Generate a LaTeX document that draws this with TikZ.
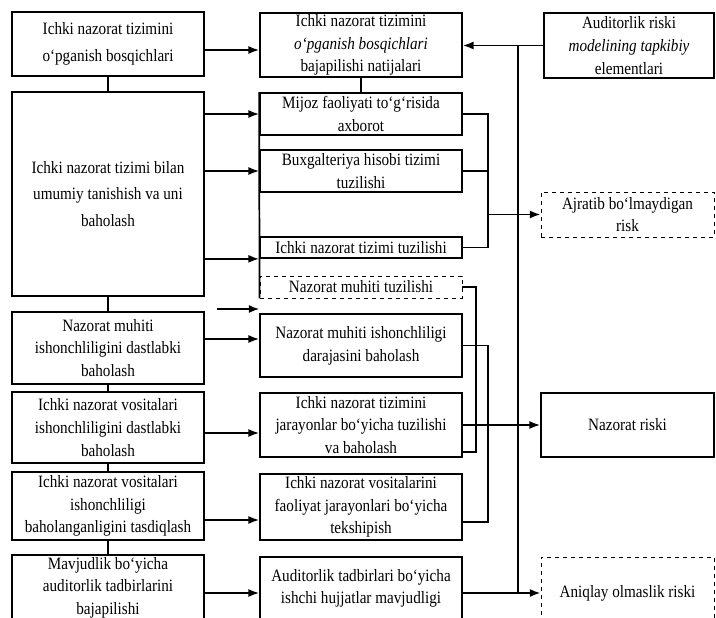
\documentclass[tikz,border=0pt]{standalone}
\usepackage{fontspec}
\setmainfont[FakeStretch=.875]{Liberation Serif}
\usetikzlibrary{arrows.meta}
\begin{document}
\begin{tikzpicture}[x=.75pt, y=-.75pt, line width=1.3pt,
	box/.style={draw, align=center, inner sep=1pt, font=\fontsize{13}{17}\selectfont},
	wide/.style={box, font=\fontsize{13}{20}\selectfont},
	faint/.style={box, line width=.7pt, dashed},
	arr/.style={-{Latex[length=8pt,width=6pt]}}]
	\useasboundingbox (0,0) rectangle (716,617);
	\node[wide,  minimum width=144pt,    minimum height=48pt]    (L1) at (108,44)    {Ichki nazorat tizimini\\o‘pganish bosqichlari};
	\node[wide,  minimum width=144pt,    minimum height=153pt]   (L2) at (108,194)   {Ichki nazorat tizimi bilan\\umumiy tanishish va uni\\baholash};
	\node[box,   minimum width=144pt,    minimum height=54pt]    (L3) at (108,348)   {Nazorat muhiti\\ishonchliligini dastlabki\\baholash};
	\node[box,   minimum width=144pt,    minimum height=53.25pt] (L4) at (108,427.5) {Ichki nazorat vositalari\\ishonchliligini dastlabki\\baholash};
	\node[box,   minimum width=144pt,    minimum height=51pt]    (L5) at (108,506)   {Ichki nazorat vositalari\\ishonchliligi\\baholanganligini tasdiqlash};
	\node[box,   minimum width=144pt,    minimum height=48.75pt] (L6) at (108,587.5) {Mavjudlik bo‘yicha\\auditorlik tadbirlarini\\bajapilishi};
	\node[box,   minimum width=151.5pt,  minimum height=48pt]    (M1) at (361,45)    {Ichki nazorat tizimini\\\textit{o‘pganish bosqichlari}\\bajapilishi natijalari};
	\node[box,   minimum width=151.5pt,  minimum height=31.5pt]  (M2) at (361,114)   {Mijoz faoliyati to‘g‘risida\\axborot};
	\node[box,   minimum width=151.5pt,  minimum height=31.5pt]  (M3) at (361,171)   {Buxgalteriya hisobi tizimi\\tuzilishi};
	\node[box,   minimum width=151.5pt,  minimum height=15.75pt] (M4) at (361,247.5) {Ichki nazorat tizimi tuzilishi};
	\node[faint, minimum width=151.5pt,  minimum height=16.5pt]  (M5) at (361,287)   {Nazorat muhiti tuzilishi};
	\node[box,   minimum width=151.5pt,  minimum height=47.25pt] (M6) at (361,345.5) {Nazorat muhiti ishonchliligi\\darajasini baholash};
	\node[box,   minimum width=151.5pt,  minimum height=48pt]    (M7) at (361,425)   {Ichki nazorat tizimini\\jarayonlar bo‘yicha tuzilishi\\va baholash};
	\node[box,   minimum width=151.5pt,  minimum height=49.5pt]  (M8) at (361,507)   {Ichki nazorat vositalarini\\faoliyat jarayonlari bo‘yicha\\tekshipish};
	\node[box,   minimum width=151.5pt,  minimum height=47.25pt] (M9) at (361,588.5) {Auditorlik tadbirlari bo‘yicha\\ishchi hujjatlar mavjudligi};
	\node[box,   minimum width=127.5pt,  minimum height=48.75pt] (R1) at (629,45.5)  {Auditorlik riski\\\textit{modelining tapkibiy}\\elementlari};
	\node[faint, minimum width=129.75pt, minimum height=33.75pt] (R2) at (627.5,214.5) {Ajratib bo‘lmaydigan\\risk};
	\node[box,   minimum width=129.75pt, minimum height=48pt]    (R3) at (627.5,425) {Nazorat riski};
	\node[faint, minimum width=129.75pt, minimum height=54pt]    (R4) at (627.5,593) {Aniqlay olmaslik riski};
	\coordinate (fa) at (217,309);
	\coordinate (bA) at (488,214.5);
	\coordinate (bB) at (476,452);
	\coordinate (bC) at (488,522);
	\coordinate (tr) at (518,0);
	\draw (L1) -- (L2);
	\draw (L2) -- (L3);
	\draw (L3) -- (L4);
	\draw (L4) -- (L5);
	\draw (L5) -- (L6);
	\draw (M1) -- (M2);
	\draw (M2.north west) -- (M5.south west);
	\draw[arr] (L1.east |- 0,50) -- (M1.west |- 0,50);
	\draw[arr] (L2.east |- M2) -- (M2.west);
	\draw[arr] (L2.east |- M3) -- (M3.west);
	\draw[arr] (L2.east |- M4.south) -- (M4.south west);
	\draw[arr] (fa) -- (fa -| M5.west);
	\draw[arr] (L3.east |- 0,339) -- (M6.west |- 0,339);
	\draw[arr] (L4.east |- 0,433) -- (M7.west |- 0,433);
	\draw[arr] (L5.east |- 0,520) -- (M8.west |- 0,520);
	\draw[arr] (L6.east |- R4) -- (M9.west |- R4);
	\draw (M2.east) -| (bA) |- (M4.east);
	\draw (M3.east) -- (M3.east -| bA);
	\draw[arr] (bA) -- (R2.west);
	\draw (M5.east) -| (bB) -- (bB -| M7.east);
	\draw (M6.east) -| (bC) -- (bC -| M8.east);
	\draw[arr] (M7.east) -- (R3.west);
	\draw[arr] (R1.west) -- (R1.west -| M1.east);
	\draw (tr |- R1.west) -- (tr |- R4.west);
	\draw[arr] (M9.east |- R4.west) -- (R4.west);
\end{tikzpicture}
\end{document}
